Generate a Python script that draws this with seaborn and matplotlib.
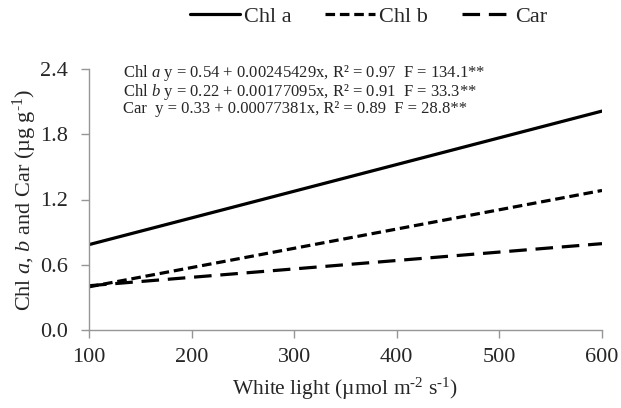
import matplotlib
matplotlib.use("Agg")
import matplotlib.pyplot as plt
import seaborn as sns
import pandas as pd

light = [100, 600]
chl_a = [0.785, 2.013]
chl_b = [0.397, 1.283]
car = [0.407, 0.794]
series_names = ["Chl a", "Chl b", "Car"]
y_ticks = [0.0, 0.6, 1.2, 1.8, 2.4]
x_ticks = [100, 200, 300, 400, 500, 600]

sns.set_theme(style="white")
plt.rcParams['font.family'] = ['Liberation Serif', 'DejaVu Serif']
plt.rcParams['mathtext.fontset'] = 'custom'
plt.rcParams['mathtext.rm'] = 'Liberation Serif'
plt.rcParams['mathtext.it'] = 'Liberation Serif:italic'

df = pd.DataFrame({
    "x": light * 3,
    "y": chl_a + chl_b + car,
    "s": [series_names[0]] * 2 + [series_names[1]] * 2 + [series_names[2]] * 2,
})

fig = plt.figure(figsize=(6.21, 4.08), dpi=100)
ax = fig.add_axes([89/621, 1 - 330/408, (602 - 89)/621, (330 - 69)/408])

styles = {"Chl a": "-", "Chl b": (0, (3.0, 1.5)), "Car": (0, (5.5, 2.75))}
for name in series_names:
    sub = df[df.s == name]
    sns.lineplot(data=sub, x="x", y="y", ax=ax, color="black", lw=2.3,
                 linestyle=styles[name], label=name, legend=False)

ax.set_xlim(100, 600)
ax.set_ylim(0, 2.4)
ax.set_xticks(x_ticks)
ax.set_yticks(y_ticks)
ax.set_yticklabels([f"{v:.1f}" for v in y_ticks])
ax.tick_params(axis='both', labelsize=16, length=6, width=1, color='#969696',
               direction='out', bottom=True, left=True)
ax.tick_params(axis='y', pad=9)
ax.tick_params(axis='x', pad=7)
for sp in ['top', 'right']:
    ax.spines[sp].set_visible(False)
for sp in ['left', 'bottom']:
    ax.spines[sp].set_color('#969696')
    ax.spines[sp].set_linewidth(1)

ax.set_xlabel(r"White light (µmol m$^{\text{-2}}$ s$^{\text{-1}}$)", fontsize=15.5, labelpad=6)
ax.set_ylabel(r"Chl $\mathit{a}$, $\mathit{b}$ and Car (µg g$^{\text{-1}}$)", fontsize=16, labelpad=1)

ann = [
    r"Chl $\mathit{a}$ y = 0.54 + 0.00245429x, R² = 0.97  F = 134.1**",
    r"Chl $\mathit{b}$ y = 0.22 + 0.00177095x, R² = 0.91  F = 33.3**",
    r"Car  y = 0.33 + 0.00077381x, R² = 0.89  F = 28.8**",
]
fig.text(123/621, 1 - 90/408, "\n".join(ann), fontsize=12, va='center', ha='left',
         linespacing=0.95)

handles, labels = ax.get_legend_handles_labels()
fig.legend(handles, labels, loc='center', bbox_to_anchor=(369/621, 1 - 17/408),
           ncol=3, frameon=False, fontsize=16, handlelength=2.25, handletextpad=0.18,
           columnspacing=1.5)

fig.savefig("out.png", dpi=100)
